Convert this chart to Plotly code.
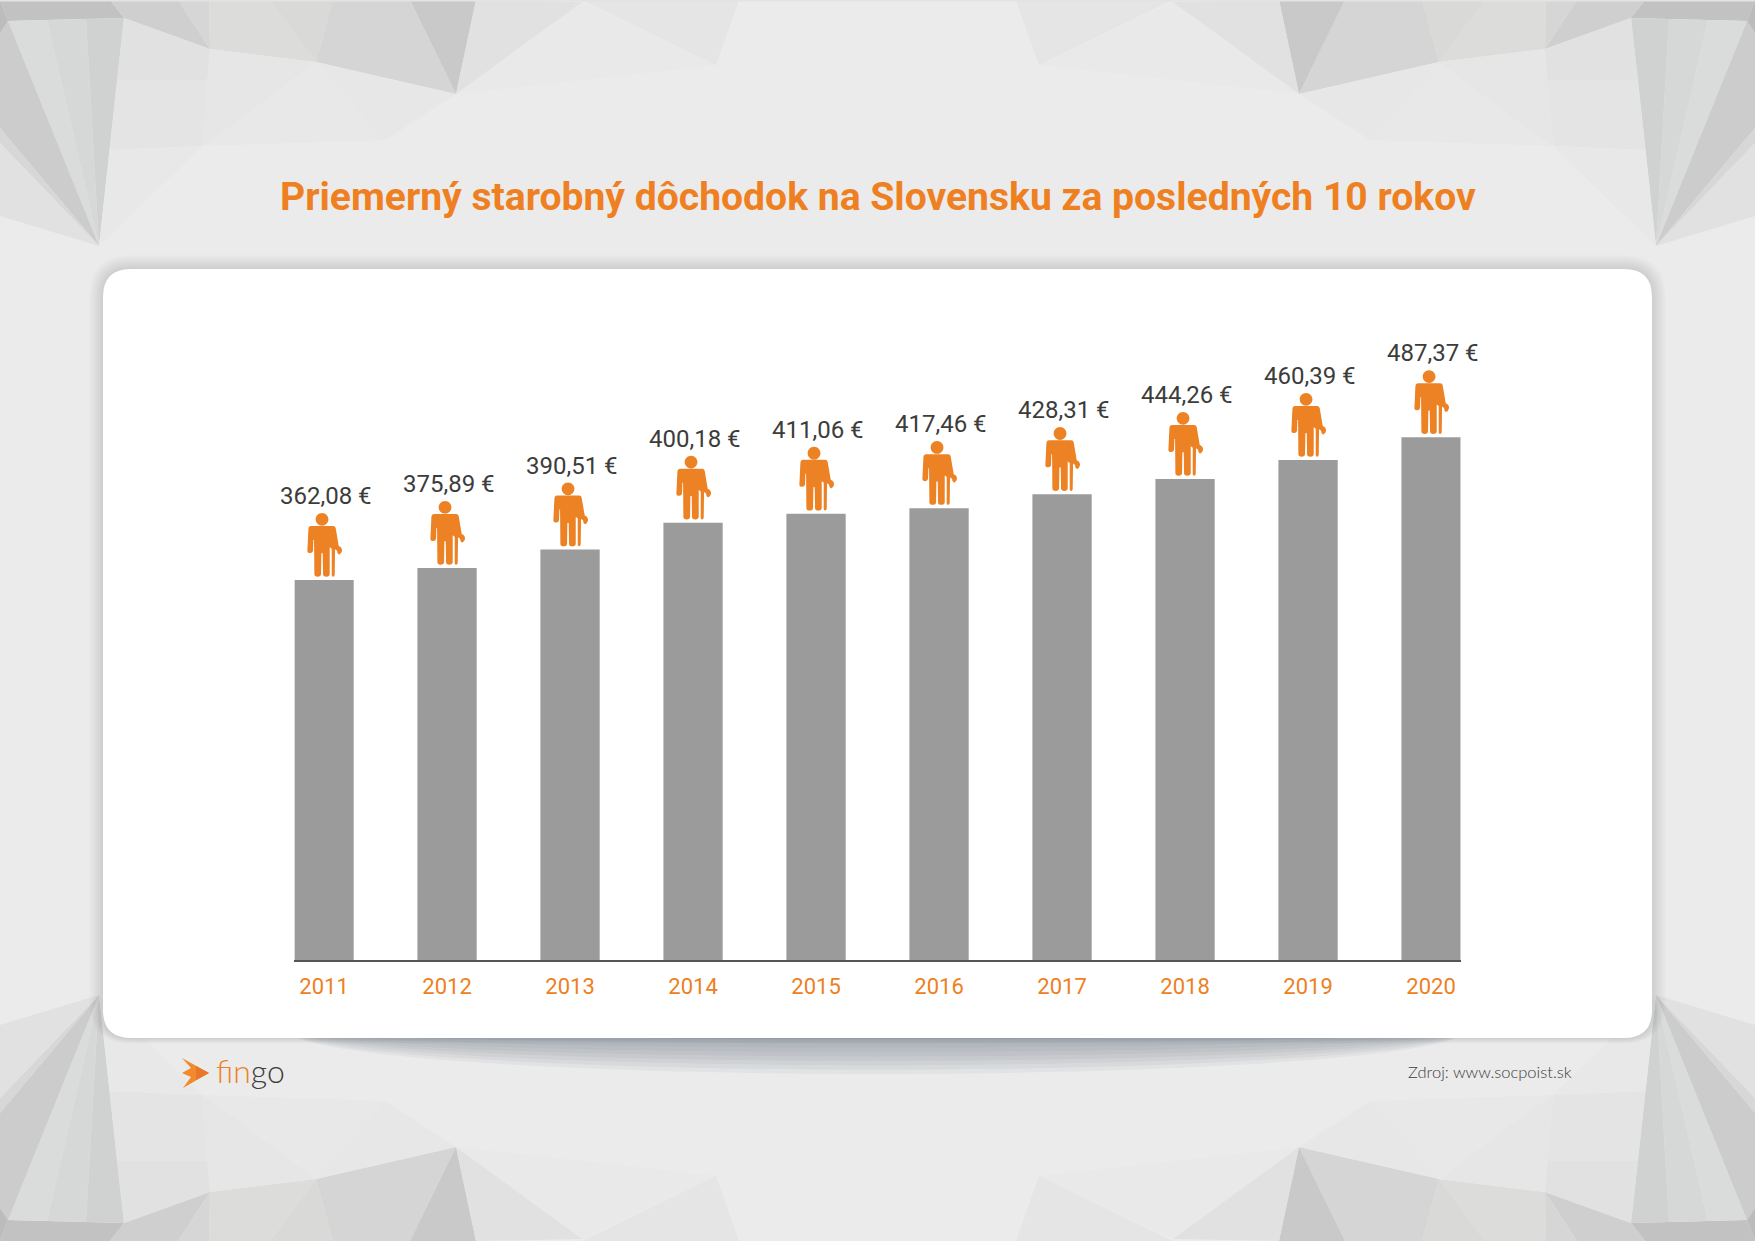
import plotly.graph_objects as go

W = 1755
H = 1241

years = ["2011", "2012", "2013", "2014", "2015", "2016", "2017", "2018", "2019", "2020"]
value_labels = ["362,08 €", "375,89 €", "390,51 €", "400,18 €", "411,06 €",
                "417,46 €", "428,31 €", "444,26 €", "460,39 €", "487,37 €"]
# bar heights as drawn in the picture (the drawn bars do not follow the labels exactly)
bar_heights = [354.3, 365.5, 382.7, 407.7, 416.0, 421.3, 434.3, 448.5, 466.2, 487.37]

ORANGE = "#ee8022"
DARK = "#3c3c3b"
TITLE = "Priemerný starobný dôchodok na Slovensku za posledných 10 rokov"
SOURCE = "Zdroj: www.socpoist.sk"

# low poly background, one corner in page pixels, mirrored to the other three
corner_polys = [
    ("#e9e9e9", [(456, 94), (582, 2), (716, 65), (600, 78)]),
    ("#e5e5e5", [(582, 0), (739, 0), (716, 65)]),
    ("#c2c2c2", [(0, 0), (110, 0), (124, 18), (8, 21)]),
    ("#cfcfcf", [(110, 0), (178, 0), (210, 49), (124, 18)]),
    ("#d6d6d6", [(178, 0), (209, 0), (210, 49)]),
    ("#dcdcda", [(209, 0), (270, 0), (316, 62), (210, 49)]),
    ("#d9dad8", [(270, 0), (333, 0), (316, 62)]),
    ("#d4d5d4", [(333, 0), (410, 0), (456, 94), (316, 62)]),
    ("#c9c9c9", [(410, 0), (476, 0), (456, 94)]),
    ("#e1e1e1", [(476, 0), (582, 2), (456, 94)]),
    # big left facet, darker to the right
    ("#dadcdc", [(8, 21), (47, 20), (99, 246)]),
    ("#d6d8d8", [(47, 20), (86, 19), (99, 246)]),
    ("#d0d1d1", [(86, 19), (124, 18), (99, 246)]),
    # facet under it, lighter going down
    ("#e1e1e1", [(124, 18), (210, 49), (207.5, 80), (117, 80)]),
    ("#e4e4e4", [(117, 80), (207.5, 80), (202, 146), (109.5, 150)]),
    ("#e8e8e8", [(109.5, 150), (202, 146), (99, 246)]),
    ("#e6e6e6", [(210, 49), (316, 62), (230, 127), (202, 146)]),
    ("#e7e7e7", [(316, 62), (456, 94), (385, 140)]),
    ("#e8e8e8", [(316, 62), (385, 140), (202, 146), (230, 127)]),
    ("#cccccc", [(0, 33), (8, 21), (99, 246), (0, 128)]),
    ("#d7d7d7", [(0, 128), (99, 246), (0, 143)]),
    ("#e1e1e1", [(0, 143), (99, 246), (0, 216)]),
    ("#bcbcbc", [(0, 0), (8, 21), (0, 33)]),
]

# person with a cane (x, y in a 3x crop around the bar)
person_outline = [
    ("M", 122, 198), ("L", 188, 198), ("Q", 195, 198, 196, 205), ("L", 205, 258),
    ("Q", 215, 262, 215, 272), ("Q", 213, 282, 206, 284), ("Q", 200, 282, 200, 272),
    ("L", 194, 268), ("L", 193, 345), ("Q", 192, 350, 188, 350), ("Q", 184, 350, 184, 345),
    ("L", 184, 266), ("L", 178, 262), ("L", 178, 343), ("Q", 177, 350, 168, 350),
    ("Q", 158, 350, 158, 343), ("L", 157, 280), ("L", 153, 280), ("L", 152, 343),
    ("Q", 151, 350, 142, 350), ("Q", 132, 350, 132, 343), ("L", 131, 240), ("L", 129, 240),
    ("L", 128, 272), ("Q", 127, 279, 119, 279), ("Q", 111, 279, 111, 272),
    ("L", 114, 208), ("Q", 115, 198, 122, 198),
]


def page_x(x):
    return round(x / W, 5)


def page_y(y):
    return round(1 - y / H, 5)


def poly_path(points):
    parts = [f"{page_x(x)},{page_y(y)}" for x, y in points]
    return "M" + " L".join(parts) + " Z"


def round_rect_path(x0, y0, x1, y1, r):
    return (
        f"M{page_x(x0 + r)},{page_y(y0)} L{page_x(x1 - r)},{page_y(y0)} "
        f"Q{page_x(x1)},{page_y(y0)} {page_x(x1)},{page_y(y0 + r)} "
        f"L{page_x(x1)},{page_y(y1 - r)} "
        f"Q{page_x(x1)},{page_y(y1)} {page_x(x1 - r)},{page_y(y1)} "
        f"L{page_x(x0 + r)},{page_y(y1)} "
        f"Q{page_x(x0)},{page_y(y1)} {page_x(x0)},{page_y(y1 - r)} "
        f"L{page_x(x0)},{page_y(y0 + r)} "
        f"Q{page_x(x0)},{page_y(y0)} {page_x(x0 + r)},{page_y(y0)} Z"
    )


def person_path():
    # pixel offsets from the top centre of the bar, y pointing up
    def conv(x, y):
        return f"{(x - 161) / 3:.2f},{(360 - y) / 3:.2f}"

    parts = []
    for seg in person_outline:
        pts = [conv(seg[i], seg[i + 1]) for i in range(1, len(seg), 2)]
        parts.append(seg[0] + " ".join(pts))
    cx, cy, r = -2.0, 60.7, 6.4
    k = r * 0.552
    head = (
        f"M{cx - r},{cy} C{cx - r},{cy + k} {cx - k},{cy + r} {cx},{cy + r} "
        f"C{cx + k},{cy + r} {cx + r},{cy + k} {cx + r},{cy} "
        f"C{cx + r},{cy - k} {cx + k},{cy - r} {cx},{cy - r} "
        f"C{cx - k},{cy - r} {cx - r},{cy - k} {cx - r},{cy} Z"
    )
    return " ".join(parts) + " Z " + head


shapes = []

for color, pts in corner_polys:
    for mx in (False, True):
        for my in (False, True):
            mirrored = [(W - x if mx else x, H - y if my else y) for x, y in pts]
            shapes.append(dict(type="path", xref="paper", yref="paper", layer="below",
                               path=poly_path(mirrored), fillcolor=color, line_width=0))

# thin light strip along the top edge
shapes.append(dict(type="rect", xref="paper", yref="paper", layer="below",
                   x0=0, x1=1, y0=page_y(1.5), y1=1, fillcolor="#e3e3e3", line_width=0))

# soft shadow around the card
for i in range(14, 0, -1):
    shapes.append(dict(type="path", xref="paper", yref="paper", layer="below",
                       path=round_rect_path(103 - i, 269 - i, 1652 + i, 1038 + i * 0.4, 28 + i),
                       fillcolor="#707070", opacity=0.017, line_width=0))

# darker lens under the card
for i in range(1, 11):
    ry = 44 * i / 10
    shapes.append(dict(type="circle", xref="paper", yref="paper", layer="below",
                       x0=page_x(877 - 590), x1=page_x(877 + 590),
                       y0=page_y(1030 + ry), y1=page_y(1030 - ry),
                       fillcolor="#5d6677", opacity=0.065, line_width=0))

# white card
shapes.append(dict(type="path", xref="paper", yref="paper", layer="below",
                   path=round_rect_path(103, 269, 1652, 1038, 28),
                   fillcolor="#ffffff", line_width=0))

# logo fish
shapes.append(dict(type="path", xref="paper", yref="paper", layer="above",
                   path=poly_path([(182, 1058), (209, 1073), (183, 1088), (191, 1077),
                                   (182, 1073), (191, 1068)]),
                   fillcolor="#f08a2c", line_width=0))
shapes.append(dict(type="path", xref="paper", yref="paper", layer="above",
                   path=poly_path([(196, 1066), (209, 1073), (196, 1080)]),
                   fillcolor="#e8772a", line_width=0))

# pictograms stand on the bars, category axes want the serial number here
person = person_path()
for i, h in enumerate(bar_heights):
    shapes.append(dict(type="path", xref="x", yref="y", layer="above",
                       xsizemode="pixel", ysizemode="pixel", xanchor=i, yanchor=h,
                       path=person, fillcolor="#ec8224", line_width=0))

annotations = []
for i, (h, label) in enumerate(zip(bar_heights, value_labels)):
    annotations.append(dict(x=i, y=h, xref="x", yref="y", text=label, showarrow=False,
                            xshift=2, yshift=84, yanchor="middle",
                            font=dict(family="Roboto", size=24, color=DARK)))

annotations.append(dict(x=page_x(877.5), y=page_y(197), xref="paper", yref="paper",
                        text=TITLE, showarrow=False, yanchor="middle",
                        font=dict(family="Roboto", size=39.1, color=ORANGE, weight=700)))
annotations.append(dict(x=page_x(1574), y=page_y(1072), xref="paper", yref="paper",
                        text=SOURCE, showarrow=False, xanchor="right", yanchor="middle",
                        font=dict(family="Lato", size=16.5, color=DARK, weight=300)))
annotations.append(dict(x=page_x(214), y=page_y(1071), xref="paper", yref="paper",
                        text='<span style="color:#ee8022">fin</span>go',
                        showarrow=False, xanchor="left", yanchor="middle",
                        font=dict(family="Lato", size=32, color=DARK, weight=300)))

fig = go.Figure()
fig.add_trace(go.Bar(x=years, y=bar_heights, marker=dict(color="#9b9b9b", line_width=0)))

gap = 0.518
half = (1 - gap) / 2
fig.update_layout(
    width=W,
    height=H,
    margin=dict(l=0, r=0, t=0, b=0),
    paper_bgcolor="#ebebeb",
    plot_bgcolor="rgba(0,0,0,0)",
    showlegend=False,
    bargap=gap,
    shapes=shapes,
    annotations=annotations,
    xaxis=dict(
        domain=[page_x(294.4), page_x(1460.7)],
        type="category",
        range=[-half, 9 + half],
        showline=True,
        linecolor="#555555",
        linewidth=2,
        showgrid=False,
        zeroline=False,
        ticks="",
        ticklabelstandoff=6,
        tickfont=dict(family="Roboto", size=22, color=ORANGE),
    ),
    yaxis=dict(
        domain=[page_y(960), page_y(316.5)],
        range=[0, 600],
        visible=False,
    ),
)

fig.write_html("out.html", config={"displayModeBar": False},
               post_script="document.body.style.margin='0';")
